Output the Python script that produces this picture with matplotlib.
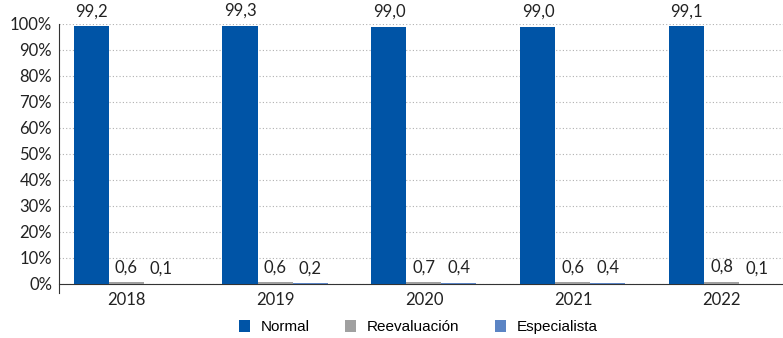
import numpy as np
import matplotlib.pyplot as plt

years = ['2018', '2019', '2020', '2021', '2022']
normal = [99.2, 99.3, 99.0, 99.0, 99.1]
reevaluacion = [0.6, 0.6, 0.7, 0.6, 0.8]
especialista = [0.1, 0.2, 0.4, 0.4, 0.1]

series = [('Normal', normal, '#0054a6'),
          ('Reevaluación', reevaluacion, '#a0a0a0'),
          ('Especialista', especialista, '#5b84c4')]

num_font = 'Lato'

fig = plt.figure(figsize=(7.83, 3.38), dpi=100)
ax = fig.add_axes([59 / 783, 1 - 284 / 338, 724 / 783, 260 / 338])

x = np.arange(len(years))
w = 0.235
for k, (name, vals, col) in enumerate(series):
    pos = x + (k - 1) * w
    ax.bar(pos, vals, width=w, color=col, label=name, zorder=3)
    for p, v in zip(pos, vals):
        ax.annotate(f'{v:.1f}'.replace('.', ','), (p, v), xytext=(0, 5),
                    textcoords='offset points', ha='center', va='bottom',
                    fontsize=12, family=num_font, color='#222222')

ax.set_xlim(-0.45, 4.41)
ax.set_ylim(0, 100)
ax.set_yticks(np.arange(0, 101, 10))
ax.set_yticklabels([f'{t}%' for t in range(0, 101, 10)], family=num_font, fontsize=12)
ax.set_xticks(x)
ax.set_xticklabels(years, family=num_font, fontsize=12)
ax.tick_params(axis='both', length=0, colors='#222222')
ax.tick_params(axis='x', pad=6)
ax.tick_params(axis='y', pad=5)
ax.yaxis.grid(True, linestyle=(0, (1, 2)), color='#b0b0b0', linewidth=0.8, zorder=0)
for s in ['top', 'right']:
    ax.spines[s].set_visible(False)
ax.spines['left'].set_color('#333333')
ax.spines['bottom'].set_color('#333333')
ax.spines['left'].set_bounds(-3.5, 100)
ax.spines['left'].set_clip_on(False)

fig.legend(loc='lower center', bbox_to_anchor=(0.534, -0.03), ncol=3, frameon=False,
           handlelength=0.75, handleheight=0.8, columnspacing=2.3, handletextpad=0.7,
           prop={'family': 'Liberation Sans', 'size': 11})

fig.savefig('out.png', dpi=100)
